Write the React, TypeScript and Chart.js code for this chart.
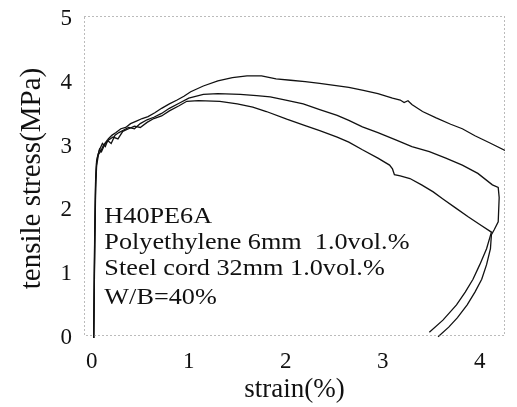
import React, { useEffect, useRef } from "react";
import { Chart, registerables } from "chart.js";

Chart.register(...registerables);

// Curve A (highest peak)
const strainA = [0.02,0.03,0.04,0.05,0.06,0.08,0.11,0.14,0.17,0.21,0.25,0.3,0.35,0.4,0.46,0.52,0.58,0.65,0.72,0.8,0.88,0.95,1.02,1.15,1.3,1.45,1.6,1.75,1.9,2.05,2.2,2.35,2.5,2.65,2.8,2.95,3.1,3.18,3.22,3.26,3.3,3.41,3.55,3.7,3.82,3.95,4.1,4.26];
const stressA = [0,1.5,2.45,2.75,2.85,2.95,3.05,3.0,3.12,3.18,3.22,3.28,3.3,3.36,3.4,3.44,3.47,3.53,3.6,3.67,3.73,3.79,3.86,3.95,4.03,4.08,4.11,4.11,4.06,4.04,4.02,3.99,3.96,3.93,3.88,3.83,3.76,3.73,3.69,3.72,3.66,3.55,3.45,3.35,3.28,3.17,3.06,2.94];

// Curve B (middle, with vertical drop and unloading)
const strainB = [0.02,0.03,0.04,0.05,0.07,0.09,0.12,0.16,0.2,0.24,0.28,0.33,0.38,0.44,0.5,0.57,0.64,0.72,0.8,0.9,1.0,1.15,1.3,1.53,1.7,1.84,2.0,2.18,2.35,2.53,2.65,2.79,2.95,3.14,3.3,3.48,3.65,3.82,3.98,4.13,4.19,4.2,4.19,4.15,4.12,4.11,4.07,4.02,3.95,3.87,3.77,3.68,3.57];
const stressB = [0,1.3,2.35,2.7,2.88,2.92,3.02,3.1,3.05,3.18,3.22,3.26,3.3,3.28,3.36,3.42,3.46,3.52,3.6,3.68,3.76,3.82,3.83,3.82,3.8,3.78,3.73,3.67,3.58,3.49,3.41,3.31,3.22,3.1,3.0,2.92,2.82,2.71,2.58,2.4,2.36,2.2,1.82,1.7,1.62,1.4,1.15,0.92,0.72,0.52,0.32,0.17,0.02];

// Curve C (lowest peak)
const strainC = [0.02,0.03,0.04,0.05,0.06,0.08,0.1,0.13,0.17,0.22,0.27,0.32,0.38,0.44,0.5,0.57,0.64,0.72,0.8,0.9,0.98,1.1,1.32,1.5,1.66,1.8,2.01,2.2,2.35,2.53,2.65,2.79,2.95,3.07,3.1,3.12,3.18,3.28,3.4,3.52,3.62,3.75,3.88,4.0,4.12,4.07,4.0,3.93,3.85,3.76,3.62,3.48];
const stressC = [0,1.6,2.5,2.78,2.84,2.96,2.92,3.02,3.1,3.15,3.12,3.24,3.28,3.32,3.3,3.38,3.44,3.48,3.56,3.64,3.71,3.72,3.71,3.67,3.62,3.55,3.43,3.33,3.25,3.15,3.07,2.95,2.82,2.71,2.65,2.56,2.54,2.5,2.4,2.29,2.18,2.04,1.9,1.78,1.66,1.4,1.15,0.92,0.72,0.52,0.28,0.09];

const xTicks = [0, 1, 2, 3, 4];
const yTicks = [0, 1, 2, 3, 4, 5];
const noteLines = ["H40PE6A", "Polyethylene 6mm  1.0vol.%", "Steel cord 32mm 1.0vol.%", "W/B=40%"];
const xTitle = "strain(%)";
const yTitle = "tensile stress(MPa)";

const SERIF = '"Liberation Serif", "Times New Roman", serif';

const toPoints = (xs: number[], ys: number[]) => xs.map((x, i) => ({ x, y: ys[i] }));

const framePlugin = {
  id: "frameAndNotes",
  afterDatasetsDraw(chart: any) {
    const { ctx, chartArea } = chart;
    const { left, top, right, bottom } = chartArea;
    ctx.save();
    ctx.strokeStyle = "#777";
    ctx.lineWidth = 1;
    ctx.setLineDash([1, 3]);
    ctx.strokeRect(left + 0.5, top - 2.5, right - left - 1, bottom - top);
    ctx.setLineDash([]);
    const xs = chart.scales.x;
    const ys = chart.scales.y;
    const baseX = xs.getPixelForValue(0.13);
    const baseY = [1.81, 1.4, 0.98, 0.54];
    ctx.fillStyle = "#111";
    ctx.font = `23px ${SERIF}`;
    ctx.textBaseline = "alphabetic";
    ctx.textAlign = "left";
    noteLines.forEach((t, i) => {
      ctx.save();
      ctx.translate(baseX, ys.getPixelForValue(baseY[i]));
      ctx.scale(1.14, 1);
      ctx.fillText(t, 0, 0);
      ctx.restore();
    });
    ctx.restore();
  },
};

export default function App() {
  const ref = useRef<HTMLCanvasElement | null>(null);
  useEffect(() => {
    if (!ref.current) return;
    const ds = (xs: number[], ys: number[]) => ({
      data: toPoints(xs, ys),
      showLine: true,
      borderColor: "#111",
      borderWidth: 1.3,
      pointRadius: 0,
      tension: 0,
      fill: false,
    });
    const chart = new Chart(ref.current, {
      type: "scatter",
      data: { datasets: [ds(strainA, stressA), ds(strainB, stressB), ds(strainC, stressC)] as any },
      plugins: [framePlugin],
      options: {
        animation: false,
        responsive: false,
        maintainAspectRatio: false,
        layout: { padding: { top: 19, right: 12, left: 0, bottom: 0 } },
        plugins: { legend: { display: false }, tooltip: { enabled: false } },
        scales: {
          x: {
            type: "linear",
            min: -0.08,
            max: 4.26,
            afterBuildTicks: (s: any) => { s.ticks = xTicks.map((v) => ({ value: v })); },
            afterFit: (s: any) => { s.height = 69; s.paddingLeft = 0; s.paddingRight = 0; },
            grid: { display: false, drawTicks: false },
            border: { display: false },
            ticks: { font: { family: SERIF, size: 23 }, color: "#111", padding: 10, maxRotation: 0 },
            title: { display: true, text: xTitle, font: { family: SERIF, size: 27 }, color: "#111", padding: { top: 0, bottom: 1 } },
          },
          y: {
            type: "linear",
            min: 0,
            max: 5,
            afterBuildTicks: (s: any) => { s.ticks = yTicks.map((v) => ({ value: v })); },
            afterFit: (s: any) => { s.width = 84; s.paddingTop = 0; s.paddingBottom = 0; },
            grid: { display: false, drawTicks: false },
            border: { display: false },
            ticks: { font: { family: SERIF, size: 23 }, color: "#111", padding: 12 },
            title: { display: true, text: yTitle, font: { family: SERIF, size: 29 }, color: "#111", padding: { top: 15, bottom: 0 } },
          },
        },
      } as any,
    });
    return () => chart.destroy();
  }, []);
  return (
    <div style={{ position: "fixed", left: 0, top: 0, width: 517, height: 407, background: "#fff" }}>
      <canvas ref={ref} width={517} height={407} style={{ width: 517, height: 407 }} />
    </div>
  );
}
